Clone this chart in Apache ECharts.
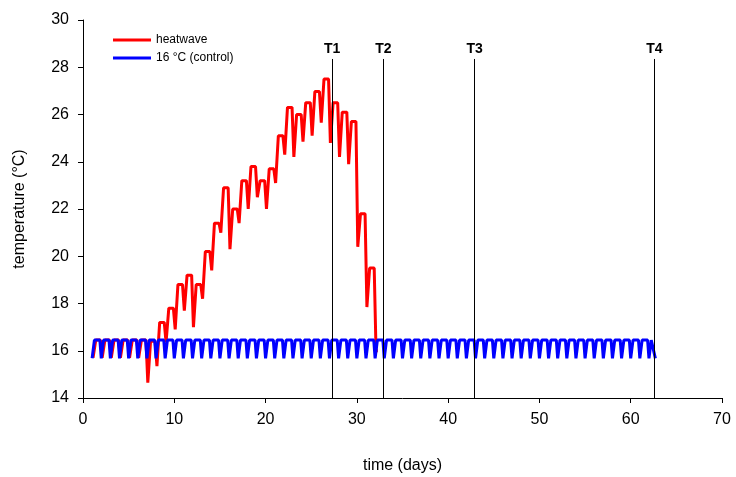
<!DOCTYPE html>
<html>
<head>
<meta charset="utf-8">
<title>heatwave</title>
<script src="https://cdn.jsdelivr.net/npm/echarts@6/dist/echarts.min.js"></script>
<style>
	body{margin:0;background:#fff;}
	#container{width:736px;height:477px;}
</style>
</head>
<body>
<div id="container"></div>
<script>
	// 热浪组：每天的低点 / 高点 (°C)，第1天起
	var heatLow  = [15.7, 15.7, 15.7, 15.7, 15.7, 15.7, 14.65, 15.35, 16.35, 16.9,
	                17.7, 17.0, 18.2, 19.4, 21.0, 20.3, 21.4, 22.0, 22.5, 22.0,
	                23.1, 24.3, 24.2, 24.85, 25.1, 25.65, 24.8, 24.2, 23.9, 20.4,
	                17.85, 16.0];
	var heatHigh = [16.45, 16.45, 16.45, 16.45, 16.45, 16.45, 16.4, 17.2, 17.8, 18.8,
	                19.2, 18.8, 20.2, 21.4, 22.9, 22.0, 23.2, 23.8, 23.2, 23.7,
	                25.1, 26.3, 26.0, 26.5, 26.97, 27.5, 26.5, 26.1, 25.7, 21.8,
	                19.5];
	// 对照组 16 °C：每天低点 / 高点
	var ctrlLow  = 15.68;
	var ctrlHigh = 16.45;
	var ctrlDays = 62;
	var ctrlEnd  = 62.7;
	// 采样时间点
	var sampleNames = ['T1', 'T2', 'T3', 'T4'];
	var sampleDays  = [27.3, 32.9, 42.9, 62.6];
	var sampleTop   = 28.35;

	var xTicks = [0, 10, 20, 30, 40, 50, 60, 70];
	var yTicks = [14, 16, 18, 20, 22, 24, 26, 28, 30];

	//每天的阶梯曲线
	function heatLine(){
		var pts = [];
		for(var i = 0; i < heatLow.length; i++){
			var k = i + 1;
			pts.push([k + 0.1, heatLow[i]]);
			pts.push([k + 0.3, heatLow[i]]);
			if(heatHigh[i] !== undefined){
				pts.push([k + 0.4, heatHigh[i]]);
				pts.push([k + 0.9, heatHigh[i]]);
			}
		}
		return pts;
	}

	function ctrlLine(){
		var pts = [];
		for(var k = 1; k <= ctrlDays; k++){
			pts.push([k, ctrlLow]);
			pts.push([k + 0.15, ctrlLow]);
			pts.push([k + 0.25, ctrlHigh]);
			pts.push([k + 0.85, ctrlHigh]);
		}
		pts = pts.filter(function(p){ return p[0] <= ctrlEnd; });
		pts.push([ctrlEnd, ctrlLow]);
		return pts;
	}

	var markData = [];
	for(var j = 0; j < sampleDays.length; j++){
		markData.push([
			{coord: [sampleDays[j], yTicks[0]], name: sampleNames[j]},
			{coord: [sampleDays[j], sampleTop]}
		]);
	}

	var font = 'Liberation Sans, Arial, sans-serif';
	var myChart = echarts.init(document.getElementById('container'), null, {renderer: 'canvas'});
	var option = {
		animation: false,
		backgroundColor: '#fff',
		grid: {left: 83, right: 14, top: 20, bottom: 79, outerBoundsMode: 'none'},
		legend: {
			orient: 'vertical',
			left: 108,
			top: 29,
			itemWidth: 38,
			itemHeight: 3,
			itemGap: 6,
			icon: 'rect',
			textStyle: {fontFamily: font, fontSize: 12, color: '#000'},
			data: ['heatwave', '16 °C (control)']
		},
		xAxis: {
			type: 'value',
			min: xTicks[0], max: xTicks[xTicks.length - 1], interval: 10,
			name: 'time (days)',
			nameLocation: 'middle',
			nameGap: 60,
			nameTextStyle: {fontFamily: font, fontSize: 16, color: '#000'},
			axisLine: {lineStyle: {color: '#000', width: 1}},
			axisTick: {show: true, length: 5, lineStyle: {color: '#000'}},
			axisLabel: {fontFamily: font, fontSize: 16, color: '#000', margin: 14},
			splitLine: {show: false}
		},
		yAxis: {
			type: 'value',
			min: yTicks[0], max: yTicks[yTicks.length - 1], interval: 2,
			name: 'temperature (°C)',
			nameLocation: 'middle',
			nameGap: 55,
			nameTextStyle: {fontFamily: font, fontSize: 16, color: '#000'},
			axisLine: {show: true, lineStyle: {color: '#000', width: 1}},
			axisTick: {show: true, length: 5, lineStyle: {color: '#000'}},
			axisLabel: {fontFamily: font, fontSize: 16, color: '#000', margin: 14},
			splitLine: {show: false}
		},
		series: [{
			name: 'heatwave',
			type: 'line',
			data: heatLine(),
			showSymbol: false,
			color: '#ff0000',
			lineStyle: {color: '#ff0000', width: 3},
			z: 2
		}, {
			name: '16 °C (control)',
			type: 'line',
			data: ctrlLine(),
			showSymbol: false,
			color: '#0000ff',
			lineStyle: {color: '#0000ff', width: 3},
			z: 3,
			markLine: {
				silent: true,
				symbol: 'none',
				animation: false,
				lineStyle: {color: '#000', width: 1, type: 'solid'},
				label: {
					show: true,
					position: 'end',
					formatter: '{b}',
					fontFamily: font,
					fontSize: 14,
					fontWeight: 'bold',
					color: '#000',
					distance: 3
				},
				data: markData
			}
		}]
	};
	myChart.setOption(option);
</script>
</body>
</html>
